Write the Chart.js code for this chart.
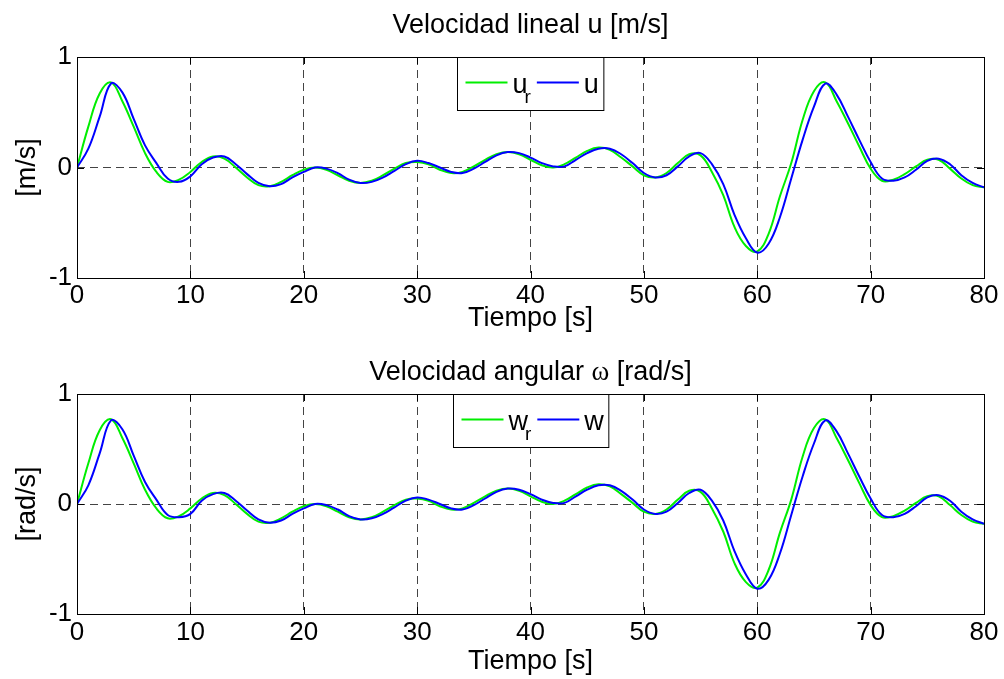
<!DOCTYPE html>
<html>
<head>
<meta charset="utf-8">
<script src="https://cdn.jsdelivr.net/npm/chart.js@4.4.1/dist/chart.umd.min.js"></script>
<style>
  body { margin: 0; background: #fff; }
  canvas { display: block; }
</style>
</head>
<body>
<canvas id="uChart" width="1004" height="340"></canvas>
<canvas id="wChart" width="1004" height="339"></canvas>
<script>
// time axis (s)
const time = Array.from({ length: 81 }, (_, i) => i);

// linear velocity: reference and measured
const urValues = [0, 0.37, 0.67, 0.77, 0.60, 0.37, 0.13, -0.04, -0.13, -0.11,
  -0.04, 0.05, 0.10, 0.08, 0.00, -0.09, -0.16, -0.17, -0.13, -0.07,
  -0.02, 0.00, -0.02, -0.07, -0.12, -0.14, -0.12, -0.07, -0.01, 0.04,
  0.05, 0.03, -0.02, -0.05, -0.04, 0.01, 0.07, 0.12, 0.14, 0.12,
  0.07, 0.02, 0.00, 0.03, 0.09, 0.15, 0.18, 0.16, 0.09, 0.01,
  -0.07, -0.09, -0.05, 0.04, 0.12, 0.11, -0.04, -0.25, -0.54, -0.71,
  -0.76, -0.60, -0.26, 0.04, 0.43, 0.69, 0.77, 0.60, 0.40, 0.19,
  -0.01, -0.12, -0.11, -0.06, 0.01, 0.07, 0.07, -0.01, -0.10, -0.16, -0.18];
const uValues = [0, 0.17, 0.46, 0.76, 0.68, 0.44, 0.20, 0.04, -0.10, -0.13,
  -0.08, 0.03, 0.09, 0.10, 0.03, -0.06, -0.14, -0.17, -0.15, -0.09,
  -0.04, 0.00, -0.01, -0.05, -0.11, -0.14, -0.13, -0.09, -0.03, 0.03,
  0.06, 0.04, 0.00, -0.04, -0.05, -0.01, 0.05, 0.11, 0.14, 0.13,
  0.09, 0.04, 0.01, 0.01, 0.07, 0.13, 0.17, 0.17, 0.12, 0.04,
  -0.05, -0.09, -0.07, 0.01, 0.10, 0.13, 0.03, -0.15, -0.43, -0.64,
  -0.77, -0.69, -0.45, -0.10, 0.25, 0.55, 0.76, 0.66, 0.46, 0.25,
  0.05, -0.10, -0.12, -0.09, -0.02, 0.06, 0.08, 0.03, -0.07, -0.14, -0.18];

// angular velocity: reference and measured
const wrValues = [0, 0.37, 0.67, 0.77, 0.60, 0.37, 0.13, -0.04, -0.13, -0.11,
  -0.04, 0.05, 0.10, 0.08, 0.00, -0.09, -0.16, -0.17, -0.13, -0.07,
  -0.02, 0.00, -0.02, -0.07, -0.12, -0.14, -0.12, -0.07, -0.01, 0.04,
  0.05, 0.03, -0.02, -0.05, -0.04, 0.01, 0.07, 0.12, 0.14, 0.12,
  0.07, 0.02, 0.00, 0.03, 0.09, 0.15, 0.18, 0.16, 0.09, 0.01,
  -0.07, -0.09, -0.05, 0.04, 0.12, 0.11, -0.04, -0.25, -0.54, -0.71,
  -0.76, -0.60, -0.26, 0.04, 0.43, 0.69, 0.77, 0.60, 0.40, 0.19,
  -0.01, -0.12, -0.11, -0.06, 0.01, 0.07, 0.07, -0.01, -0.10, -0.16, -0.18];
const wValues = [0, 0.17, 0.46, 0.76, 0.68, 0.44, 0.20, 0.04, -0.10, -0.12,
  -0.09, 0.03, 0.09, 0.10, 0.03, -0.06, -0.14, -0.17, -0.15, -0.09,
  -0.04, 0.00, -0.01, -0.05, -0.11, -0.14, -0.13, -0.09, -0.03, 0.03,
  0.06, 0.04, 0.00, -0.04, -0.05, -0.01, 0.05, 0.11, 0.14, 0.13,
  0.09, 0.04, 0.01, 0.01, 0.07, 0.13, 0.17, 0.17, 0.12, 0.04,
  -0.05, -0.09, -0.07, 0.01, 0.10, 0.13, 0.03, -0.15, -0.43, -0.64,
  -0.77, -0.69, -0.45, -0.10, 0.25, 0.55, 0.76, 0.66, 0.46, 0.25,
  0.05, -0.10, -0.12, -0.09, -0.02, 0.06, 0.08, 0.03, -0.07, -0.14, -0.18];

const xTicks = [0, 10, 20, 30, 40, 50, 60, 70, 80];
const yTicks = [-1, 0, 1];

const SANS = '"Liberation Sans", Arial, sans-serif';
const SERIF = '"Liberation Serif", "Times New Roman", serif';

// matlab-like box, inner ticks, title and legend
const matlabPlugin = {
  id: 'matlab',
  afterDraw(chart, args, opts) {
    const { ctx, chartArea: a, scales } = chart;
    ctx.save();
    ctx.strokeStyle = '#000';
    ctx.lineWidth = 1;
    ctx.strokeRect(a.left + 0.5, a.top + 0.5, a.right - a.left, a.bottom - a.top);

    ctx.beginPath();
    scales.x.ticks.forEach(t => {
      const px = Math.round(scales.x.getPixelForValue(t.value)) + 0.5;
      ctx.moveTo(px, a.bottom); ctx.lineTo(px, a.bottom - 7);
      ctx.moveTo(px, a.top); ctx.lineTo(px, a.top + 7);
    });
    scales.y.ticks.forEach(t => {
      const py = Math.round(scales.y.getPixelForValue(t.value)) + 0.5;
      ctx.moveTo(a.left, py); ctx.lineTo(a.left + 7, py);
      ctx.moveTo(a.right, py); ctx.lineTo(a.right - 7, py);
    });
    ctx.stroke();

    // title
    ctx.fillStyle = '#000';
    ctx.textBaseline = 'alphabetic';
    ctx.textAlign = 'left';
    let total = 0;
    opts.title.forEach(p => { ctx.font = p.font; total += ctx.measureText(p.text).width; });
    let tx = (a.left + a.right) / 2 - total / 2;
    opts.title.forEach(p => {
      ctx.font = p.font;
      ctx.fillText(p.text, tx, opts.titleY);
      tx += ctx.measureText(p.text).width;
    });

    // legend
    const mainFont = '27px ' + SANS;
    const subFont = '19px ' + SANS;
    const items = chart.data.datasets.map(ds => {
      ctx.font = mainFont;
      const w1 = ctx.measureText(ds.label).width;
      ctx.font = subFont;
      const w2 = ds.sub ? ctx.measureText(ds.sub).width : 0;
      return { ds, w1, w2 };
    });
    let lw = 8;
    items.forEach((it, i) => { lw += 42 + 5 + it.w1 + it.w2 + (i < items.length - 1 ? 3 : 5); });
    const lx = Math.round((a.left + a.right) / 2 - lw / 2) + 0.5;
    const ly = a.top + 0.5;
    const lh = 53;
    ctx.fillStyle = '#fff';
    ctx.fillRect(lx, ly, lw, lh);
    ctx.strokeStyle = '#000';
    ctx.strokeRect(lx, ly, lw, lh);
    let cx = lx + 8;
    items.forEach(it => {
      ctx.strokeStyle = it.ds.borderColor;
      ctx.lineWidth = 2;
      ctx.beginPath();
      ctx.moveTo(cx, ly + 25); ctx.lineTo(cx + 42, ly + 25);
      ctx.stroke();
      cx += 47;
      ctx.fillStyle = '#000';
      ctx.font = mainFont;
      ctx.fillText(it.ds.label, cx, ly + 35);
      cx += it.w1;
      if (it.ds.sub) {
        ctx.font = subFont;
        ctx.fillText(it.ds.sub, cx - 3, ly + 45);
        cx += it.w2;
      }
      cx += 3;
    });
    ctx.restore();
  }
};

function makeChart(id, refLabel, refValues, label, values, sub, yTitle, title, titleY, padTop, xHeight, yTitlePad, xTitlePad, xTickPad) {
  return new Chart(document.getElementById(id), {
    type: 'line',
    data: {
      datasets: [
        { label: refLabel, sub: sub, data: time.map((t, i) => ({ x: t, y: refValues[i] })),
          borderColor: '#00ee00', borderWidth: 2, pointRadius: 0, tension: 0.4, order: 2 },
        { label: label, data: time.map((t, i) => ({ x: t, y: values[i] })),
          borderColor: '#0000ff', borderWidth: 2, pointRadius: 0, tension: 0.4, order: 1 }
      ]
    },
    options: {
      responsive: false,
      animation: false,
      layout: { padding: { top: padTop, right: 20, left: 0, bottom: 0 } },
      plugins: {
        legend: { display: false },
        tooltip: { enabled: false },
        matlab: { title: title, titleY: titleY }
      },
      scales: {
        x: {
          type: 'linear', min: 0, max: 80,
          afterBuildTicks: s => { s.ticks = xTicks.map(v => ({ value: v })); },
          afterFit: s => { s.height = xHeight; },
          grid: { color: '#444', lineWidth: 1, drawTicks: false },
          border: { display: false, dash: [8, 5] },
          ticks: { color: '#000', font: { family: SANS, size: 26 }, padding: xTickPad, maxRotation: 0 },
          title: { display: true, text: 'Tiempo [s]', color: '#000', font: { family: SANS, size: 27 }, padding: { top: 0, bottom: xTitlePad } }
        },
        y: {
          min: -1, max: 1,
          afterBuildTicks: s => { s.ticks = yTicks.map(v => ({ value: v })); },
          afterFit: s => { s.width = 77; },
          grid: { color: '#444', lineWidth: 1, drawTicks: false },
          border: { display: false, dash: [8, 5] },
          ticks: { color: '#000', font: { family: SANS, size: 26 }, padding: 5 },
          title: { display: true, text: yTitle, color: '#000', font: { family: SANS, size: 27 }, padding: { top: yTitlePad, bottom: 0 } }
        }
      }
    },
    plugins: [matlabPlugin]
  });
}

makeChart('uChart', 'u', urValues, 'u', uValues, 'r', '[m/s]',
  [{ text: 'Velocidad lineal u [m/s]', font: '27px ' + SANS }], 33, 57, 62, 11, 5, 2);

makeChart('wChart', 'w', wrValues, 'w', wValues, 'r', '[rad/s]',
  [{ text: 'Velocidad angular ', font: '27px ' + SANS },
   { text: 'ω', font: '27px ' + SERIF },
   { text: ' [rad/s]', font: '27px ' + SANS }], 40, 54, 65, 11, 1, 3);
</script>
</body>
</html>
